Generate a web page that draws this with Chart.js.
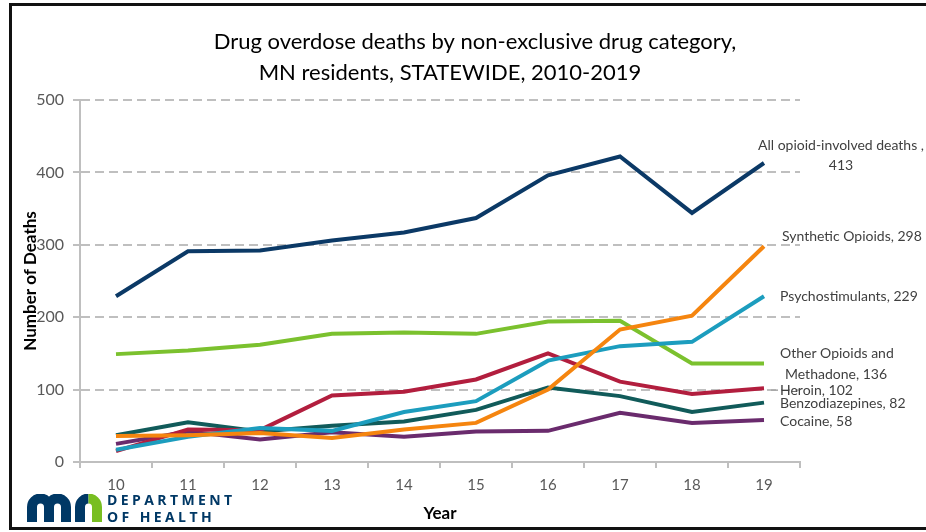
<!DOCTYPE html>
<html>
<head>
<meta charset="utf-8">
<script src="https://cdn.jsdelivr.net/npm/chart.js@4.4.1/dist/chart.umd.min.js"></script>
<style>
  body { margin: 0; background: #fff; overflow: hidden; }
  #wrap { position: relative; width: 926px; height: 532px; overflow: hidden; }
  #frame { position: absolute; left: 9px; top: 3px; width: 960px; height: 521px; border: 3px solid #111; border-right: none; }
  #chart { position: absolute; left: 0; top: 0; }
  #logo { position: absolute; left: 27px; top: 494px; }
  #dept { position: absolute; left: 107px; top: 491px; color: #003865; font: bold 14px 'Open Sans', sans-serif; letter-spacing: 3.4px; line-height: 17px; }
</style>
</head>
<body>
<div id="wrap">
  <div id="frame"></div>
  <canvas id="chart" width="926" height="532"></canvas>
  <svg id="logo" width="76" height="28" viewBox="0 0 76 28">
    <path d="M5 28 V13 A8.5 8.5 0 0 1 22 13 V28 M22 13 A8.5 8.5 0 0 1 39 13 V28 M53 28 V13 A8.5 8.5 0 0 1 61.5 4.5" fill="none" stroke="#003865" stroke-width="10"/>
    <path d="M61.5 4.5 A8.5 8.5 0 0 1 70 13 V28" fill="none" stroke="#78BE21" stroke-width="10"/>
  </svg>
  <div id="dept">DEPARTMENT<br>OF HEALTH</div>
</div>
<script>
// data
const years = ['10', '11', '12', '13', '14', '15', '16', '17', '18', '19'];
const allOpioid = [229, 291, 292, 306, 317, 337, 396, 422, 344, 413];
const synthetic = [36, 37, 40, 33, 45, 54, 100, 183, 202, 298];
const psychostimulants = [17, 35, 47, 43, 69, 84, 140, 160, 166, 229];
const otherOpioids = [149, 154, 162, 177, 179, 177, 194, 195, 136, 136];
const heroin = [15, 45, 44, 92, 97, 114, 150, 111, 94, 102];
const benzodiazepines = [37, 55, 42, 50, 56, 72, 103, 91, 69, 82];
const cocaine = [25, 42, 31, 41, 35, 42, 43, 68, 54, 58];
const yTicks = [0, 100, 200, 300, 400, 500];

const last = arr => arr[arr.length - 1];
const titleLines = ['Drug overdose deaths by non-exclusive drug category,', 'MN residents, STATEWIDE, 2010-2019'];

const series = [
  { name: 'All opioid-involved deaths', data: allOpioid, color: '#0B3966',
    text: ['All opioid-involved deaths ,', String(last(allOpioid))] },
  { name: 'Synthetic Opioids', data: synthetic, color: '#F5850F',
    text: ['Synthetic Opioids, ' + last(synthetic)] },
  { name: 'Psychostimulants', data: psychostimulants, color: '#1C9DBE',
    text: ['Psychostimulants, ' + last(psychostimulants)] },
  { name: 'Other Opioids and Methadone', data: otherOpioids, color: '#7BC12E',
    text: ['Other Opioids and', 'Methadone, ' + last(otherOpioids)] },
  { name: 'Heroin', data: heroin, color: '#B21E3E',
    text: ['Heroin, ' + last(heroin)] },
  { name: 'Benzodiazepines', data: benzodiazepines, color: '#115B5A',
    text: ['Benzodiazepines, ' + last(benzodiazepines)] },
  { name: 'Cocaine', data: cocaine, color: '#6A2B6D',
    text: ['Cocaine, ' + last(cocaine)] }
];

// where each end label sits relative to the series' last point
const spots = [
  [{ dx: 77, dy: -18, align: 'center' }, { dx: 77, dy: 2, align: 'center' }],
  [{ dx: 18, dy: -10 }],
  [{ dx: 16, dy: 0 }],
  [{ dx: 16, dy: -10 }, { dx: 21, dy: 11 }],
  [{ dx: 16, dy: 2, leader: true }],
  [{ dx: 16, dy: 1 }],
  [{ dx: 16, dy: 1 }]
];

const endLabels = {
  id: 'endLabels',
  afterDatasetsDraw(chart) {
    const ctx = chart.ctx;
    ctx.save();
    ctx.font = '14px Lato';
    ctx.fillStyle = '#3F3F3F';
    ctx.textBaseline = 'middle';
    series.forEach((s, i) => {
      const meta = chart.getDatasetMeta(i);
      const pt = meta.data[meta.data.length - 1];
      s.text.forEach((line, j) => {
        const sp = spots[i][j];
        ctx.textAlign = sp.align || 'left';
        ctx.fillText(line, pt.x + sp.dx, pt.y + sp.dy);
        if (sp.leader) {
          ctx.strokeStyle = '#A6A6A6';
          ctx.lineWidth = 1.5;
          ctx.beginPath();
          ctx.moveTo(pt.x + 7, pt.y + sp.dy);
          ctx.lineTo(pt.x + sp.dx - 2, pt.y + sp.dy);
          ctx.stroke();
        }
      });
    });
    ctx.restore();
  }
};

const chartTitle = {
  id: 'chartTitle',
  afterDraw(chart) {
    const ctx = chart.ctx;
    ctx.save();
    ctx.font = '22px Lato';
    ctx.fillStyle = '#000';
    ctx.textAlign = 'center';
    ctx.textBaseline = 'middle';
    ctx.fillText(titleLines[0], 475, 42);
    ctx.fillText(titleLines[1], 450, 73);
    ctx.restore();
  }
};

new Chart(document.getElementById('chart'), {
  type: 'line',
  data: {
    labels: years,
    datasets: series.map(s => ({
      label: s.name,
      data: s.data,
      borderColor: s.color,
      backgroundColor: s.color,
      borderWidth: 4,
      pointRadius: 0,
      tension: 0
    }))
  },
  options: {
    responsive: false,
    animation: false,
    layout: { padding: { top: 100, right: 126, left: 0, bottom: 0 } },
    plugins: {
      legend: { display: false },
      tooltip: { enabled: false }
    },
    scales: {
      x: {
        offset: true,
        afterFit: s => { s.height = 70; },
        grid: { offset: true, drawOnChartArea: false, drawTicks: true, tickLength: 6, color: '#BFBFBF', lineWidth: 2 },
        border: { color: '#BFBFBF', width: 2 },
        ticks: { color: '#595959', font: { family: 'Lato', size: 15 }, padding: 8 },
        title: { display: true, text: 'Year', color: '#000', font: { family: 'Lato', size: 17, weight: 'bold' }, padding: { top: 0, bottom: 8 } }
      },
      y: {
        min: 0,
        max: 500,
        afterFit: s => { s.width = 80; },
        afterBuildTicks: s => { s.ticks = yTicks.map(v => ({ value: v })); },
        grid: { color: '#BFBFBF', lineWidth: 2, tickLength: 7, tickColor: '#BFBFBF' },
        border: { color: '#BFBFBF', width: 2, dash: [9, 5] },
        ticks: { color: '#595959', font: { family: 'Lato', size: 16 }, padding: 9 },
        title: { display: true, text: 'Number of Deaths', color: '#000', font: { family: 'Lato', size: 17, weight: 'bold' }, padding: { top: 20, bottom: 0 } }
      }
    }
  },
  plugins: [endLabels, chartTitle]
});
</script>
</body>
</html>
